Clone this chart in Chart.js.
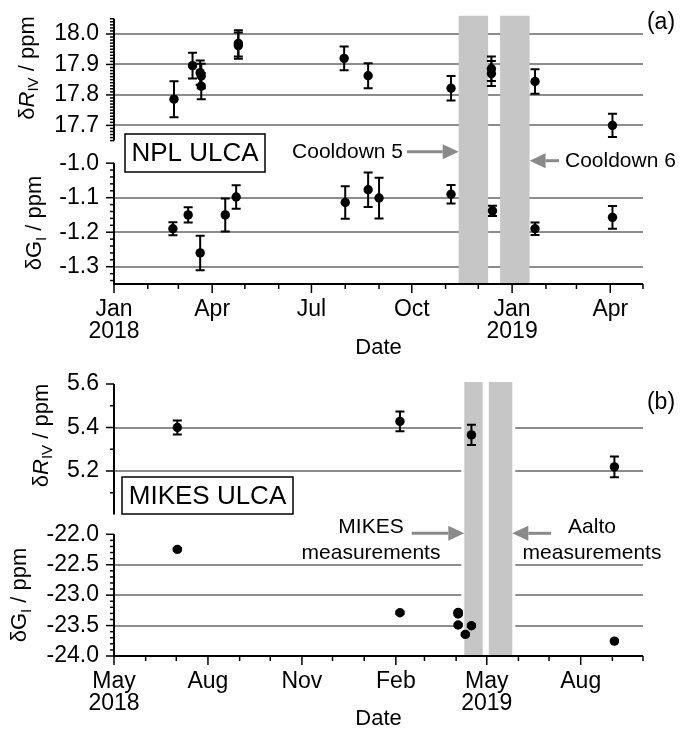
<!DOCTYPE html>
<html><head><meta charset="utf-8">
<script src="https://cdn.jsdelivr.net/npm/chart.js@4.4.1/dist/chart.umd.min.js"></script>
<style>
html,body{margin:0;padding:0;background:#fff;}
#wrap{position:relative;width:692px;height:732px;overflow:hidden;background:#fff;}
canvas{position:absolute;left:0;}
#ca{top:0;}
#cb{top:360px;}
</style></head><body>
<div id="wrap"><canvas id="ca" width="692" height="360"></canvas><canvas id="cb" width="692" height="372"></canvas></div>
<script>
// ---------- Panel (a): NPL ULCA ----------
const nplRDates = ['2018-02-25','2018-03-14','2018-03-21','2018-03-22','2018-03-22','2018-04-25','2018-04-25','2018-07-31','2018-08-22','2018-11-06','2018-12-13','2018-12-13','2019-01-22','2019-04-03'];
const nplRVals  = [17.786, 17.896, 17.873, 17.862, 17.829, 17.969, 17.962, 17.920, 17.863, 17.822, 17.886, 17.870, 17.844, 17.700];
const nplRErr   = [0.059, 0.042, 0.040, 0.040, 0.043, 0.043, 0.043, 0.039, 0.041, 0.040, 0.040, 0.041, 0.040, 0.038];

const nplGDates = ['2018-02-24','2018-03-10','2018-03-21','2018-04-13','2018-04-23','2018-08-01','2018-08-22','2018-09-01','2018-11-06','2018-12-14','2019-01-22','2019-04-03'];
const nplGVals  = [-1.190, -1.150, -1.260, -1.150, -1.098, -1.114, -1.077, -1.101, -1.090, -1.138, -1.190, -1.157];
const nplGErr   = [0.019, 0.022, 0.050, 0.048, 0.034, 0.047, 0.050, 0.059, 0.027, 0.015, 0.018, 0.033];

const nplBands = [['2018-11-13','2018-12-10'], ['2018-12-21','2019-01-17']];

const aMajorDates  = ['2018-01-01','2018-04-01','2018-07-01','2018-10-01','2019-01-01','2019-04-01'];
const aMajorLabels = [['Jan','2018'],'Apr','Jul','Oct',['Jan','2019'],'Apr'];
const aRLabels = ['17.7','17.8','17.9','18.0'];
const aRGrid   = [17.7, 17.8, 17.9, 18.0];
const aGLabels = ['-1.3','-1.2','-1.1','-1.0'];
const aGGrid   = [-1.1, -1.2, -1.3];

// ---------- Panel (b): MIKES ULCA ----------
const mikesRDates = ['2018-07-02','2019-02-05','2019-04-16','2019-09-03'];
const mikesRVals  = [5.400, 5.428, 5.366, 5.219];
const mikesRErr   = [0.032, 0.045, 0.047, 0.048];

const mikesGDates = ['2018-07-02','2019-02-05','2019-04-03','2019-04-03','2019-04-03','2019-04-10','2019-04-16','2019-09-03'];
const mikesGVals  = [-22.247, -23.289, -23.283, -23.310, -23.490, -23.645, -23.503, -23.755];
const mikesGErr   = [0.02, 0.02, 0.02, 0.02, 0.02, 0.02, 0.02, 0.02];

const mikesBands = [['2019-04-09','2019-04-27'], ['2019-05-03','2019-05-26']];

const bMajorDates  = ['2018-05-01','2018-08-01','2018-11-01','2019-02-01','2019-05-01','2019-08-01'];
const bMajorLabels = [['May','2018'],'Aug','Nov','Feb',['May','2019'],'Aug'];
const bRLabels = ['5.2','5.4','5.6'];
const bRGrid   = [5.2, 5.4];
const bGLabels = ['-24.0','-23.5','-23.0','-22.5','-22.0'];
const bGGrid   = [-22.5, -23.0, -23.5];

// ---------- helpers ----------
const FONT = "'Liberation Sans', Arial, sans-serif";
const GRID = '#8c8c8c';
const BAND = '#c6c6c6';
const ARROW = '#8a8a8a';
const day = s => Date.UTC(+s.slice(0,4), +s.slice(5,7)-1, +s.slice(8,10)) / 86400000;
function monthList(start, end) {
  const out = []; let y = +start.slice(0,4), m = +start.slice(5,7);
  for (;;) {
    const s = y + '-' + String(m).padStart(2,'0') + '-01';
    if (day(s) > day(end)) break;
    out.push(s); m++; if (m > 12) { m = 1; y++; }
  }
  return out;
}
function tickRange(min, max, step) {
  const n = Math.round((max - min) / step), out = [];
  for (let i = 0; i <= n; i++) out.push(+(min + i * step).toFixed(4));
  return out;
}
const near = (a, b) => Math.abs(a - b) < 1e-6;

const PANELS = {
  ca: {
    xMin: '2018-01-01', xMax: '2019-05-01', majorDates: aMajorDates, majorLabels: aMajorLabels,
    padTop: 18.75, xHeight: 76, bands: nplBands, bandExtra: 3, bandGap: false,
    series: [
      {id: 'yR', dates: nplRDates, vals: nplRVals, err: nplRErr},
      {id: 'yG', dates: nplGDates, vals: nplGVals, err: nplGErr}
    ],
    axes: {
      yR: {min: 17.576, max: 18.05, tMin: 17.65, tMax: 18.05, step: 0.01, labels: aRLabels, grid: aRGrid, line: [17.65, 18.05], sw: 144.6, order: 1},
      yG: {min: -1.35, max: -1.0, tMin: -1.34, tMax: -1.0, step: 0.02, labels: aGLabels, grid: aGGrid, line: [-1.35, -1.0], sw: 121, order: 0}
    },
    titles: [
      {cx: 26, cy: 68, parts: [['δ'], ['R', 'i'], ['IV', 's'], [' / ppm']]},
      {cx: 33.5, cy: 223, parts: [['δG'], ['I', 's'], [' / ppm']]}
    ],
    dateY: 348, label: '(a)', labelY: 23,
    box: {x1: 125, y1: 134, x2: 265, y2: 172, text: 'NPL ULCA'},
    notes: function (ctx, xs) {
      const b1 = xs.getPixelForValue(day(nplBands[0][0]));
      const b2 = xs.getPixelForValue(day(nplBands[1][1]));
      text(ctx, 'Cooldown 5', 403, 152, 21, 'right');
      arrow(ctx, 407, b1, 151.7);
      arrow(ctx, 559, b2, 160.7);
      text(ctx, 'Cooldown 6', 565, 161, 21, 'left');
    }
  },
  cb: {
    xMin: '2018-05-01', xMax: '2019-10-01', majorDates: bMajorDates, majorLabels: bMajorLabels,
    padTop: 24, xHeight: 76, bands: mikesBands, bandExtra: 2, bandGap: true,
    series: [
      {id: 'yR', dates: mikesRDates, vals: mikesRVals, err: mikesRErr},
      {id: 'yG', dates: mikesGDates, vals: mikesGVals, err: mikesGErr}
    ],
    axes: {
      yR: {min: 4.909, max: 5.6, tMin: 5.1, tMax: 5.6, step: 0.1, labels: bRLabels, grid: bRGrid, line: [5.0, 5.6], sw: 150.3, order: 1},
      yG: {min: -24.0, max: -22.0, tMin: -24.0, tMax: -22.0, step: 0.1, labels: bGLabels, grid: bGGrid, line: [-24.0, -22.0], sw: 121.7, order: 0}
    },
    titles: [
      {cx: 40, cy: 75.5, parts: [['δ'], ['R', 'i'], ['IV', 's'], [' / ppm']]},
      {cx: 18.5, cy: 235, parts: [['δG'], ['I', 's'], [' / ppm']]}
    ],
    dateY: 359, label: '(b)', labelY: 42.5,
    box: {x1: 122, y1: 117, x2: 293, y2: 154, text: 'MIKES ULCA'},
    notes: function (ctx, xs) {
      const b1 = xs.getPixelForValue(day(mikesBands[0][0]));
      const b2 = xs.getPixelForValue(day(mikesBands[1][1]));
      text(ctx, 'MIKES', 371, 167.3, 21, 'center');
      text(ctx, 'measurements', 371, 193.3, 21, 'center');
      arrow(ctx, 411.7, b1, 173.3);
      arrow(ctx, 551, b2, 173.3);
      text(ctx, 'Aalto', 592, 167.3, 21, 'center');
      text(ctx, 'measurements', 592, 193.3, 21, 'center');
    }
  }
};

function text(ctx, s, x, y, size, align) {
  ctx.save();
  ctx.font = size + 'px ' + FONT;
  ctx.fillStyle = '#000';
  ctx.textAlign = align; ctx.textBaseline = 'middle';
  ctx.fillText(s, x, y);
  ctx.restore();
}
function arrow(ctx, xFrom, xTip, y) {
  const dir = Math.sign(xTip - xFrom), headL = 16, headW = 7.5;
  ctx.save();
  ctx.strokeStyle = ARROW; ctx.fillStyle = ARROW; ctx.lineWidth = 3;
  ctx.beginPath(); ctx.moveTo(xFrom, y); ctx.lineTo(xTip - dir * headL, y); ctx.stroke();
  ctx.beginPath();
  ctx.moveTo(xTip, y);
  ctx.lineTo(xTip - dir * headL, y - headW);
  ctx.lineTo(xTip - dir * headL, y + headW);
  ctx.closePath(); ctx.fill();
  ctx.restore();
}
function vTitle(ctx, t) {
  const size = 22, sub = 15;
  ctx.save();
  ctx.translate(t.cx, t.cy);
  ctx.rotate(-Math.PI / 2);
  ctx.fillStyle = '#000';
  ctx.textBaseline = 'alphabetic'; ctx.textAlign = 'left';
  const fontOf = p => (p[1] === 'i' ? 'italic ' : '') + (p[1] === 's' ? sub : size) + 'px ' + FONT;
  let total = 0;
  t.parts.forEach(p => { ctx.font = fontOf(p); total += ctx.measureText(p[0]).width; });
  let x = -total / 2;
  const base = 0.35 * size;
  t.parts.forEach(p => {
    ctx.font = fontOf(p);
    ctx.fillText(p[0], x, p[1] === 's' ? base + 4.5 : base);
    x += ctx.measureText(p[0]).width;
  });
  ctx.restore();
}

const decor = {
  id: 'decor',
  beforeDatasetsDraw(chart) {
    const P = PANELS[chart.canvas.id], ctx = chart.ctx, xs = chart.scales.x, a = chart.chartArea;
    ctx.save();
    const px = P.bands.map(b => [xs.getPixelForValue(day(b[0])), xs.getPixelForValue(day(b[1]))]);
    if (P.bandGap) {
      ctx.fillStyle = '#fff';
      ctx.fillRect(px[0][0] - 3, a.top, px[px.length - 1][1] - px[0][0] + 6, a.bottom - a.top - 1);
    }
    ctx.fillStyle = BAND;
    px.forEach(p => ctx.fillRect(p[0], a.top - P.bandExtra, p[1] - p[0], a.bottom - a.top + P.bandExtra));
    // error bars
    ctx.strokeStyle = '#000'; ctx.lineWidth = 2;
    chart.data.datasets.forEach(ds => {
      const ys = chart.scales[ds.yAxisID];
      ds.data.forEach((pt, i) => {
        const e = ds.errs[i];
        const x = xs.getPixelForValue(pt.x);
        const y1 = ys.getPixelForValue(pt.y - e), y2 = ys.getPixelForValue(pt.y + e);
        ctx.beginPath();
        ctx.moveTo(x, y1); ctx.lineTo(x, y2);
        ctx.moveTo(x - 4.5, y1); ctx.lineTo(x + 4.5, y1);
        ctx.moveTo(x - 4.5, y2); ctx.lineTo(x + 4.5, y2);
        ctx.stroke();
      });
    });
    ctx.restore();
  },
  afterDraw(chart) {
    const P = PANELS[chart.canvas.id], ctx = chart.ctx, xs = chart.scales.x, a = chart.chartArea;
    ctx.save();
    ctx.strokeStyle = '#000';
    // x axis line + ticks
    ctx.lineWidth = 2;
    ctx.beginPath(); ctx.moveTo(a.left - 1, a.bottom); ctx.lineTo(a.right, a.bottom); ctx.stroke();
    ctx.lineWidth = 1.5;
    xs.ticks.forEach(t => {
      const x = xs.getPixelForValue(t.value);
      const major = Array.isArray(t.label) ? t.label.length > 0 : !!t.label;
      ctx.beginPath(); ctx.moveTo(x, a.bottom); ctx.lineTo(x, a.bottom + (major ? 9 : 5)); ctx.stroke();
    });
    // y axes
    ['yR', 'yG'].forEach(id => {
      const ys = chart.scales[id], ax = P.axes[id];
      ctx.lineWidth = 2;
      ctx.beginPath();
      ctx.moveTo(a.left, ys.getPixelForValue(ax.line[0]));
      ctx.lineTo(a.left, ys.getPixelForValue(ax.line[1]));
      ctx.stroke();
      ctx.lineWidth = 1.5;
      ys.ticks.forEach(t => {
        const y = ys.getPixelForValue(t.value);
        const major = !!t.label;
        ctx.beginPath(); ctx.moveTo(a.left, y); ctx.lineTo(a.left - (major ? 8 : 4), y); ctx.stroke();
      });
    });
    ctx.restore();
    P.titles.forEach(t => vTitle(ctx, t));
    text(ctx, 'Date', 378.5, P.dateY, 22, 'center');
    text(ctx, P.label, 661, P.labelY, 23, 'center');
    // box label
    ctx.save();
    ctx.fillStyle = '#fff';
    ctx.fillRect(P.box.x1, P.box.y1, P.box.x2 - P.box.x1, P.box.y2 - P.box.y1);
    ctx.strokeStyle = '#000'; ctx.lineWidth = 1.5;
    ctx.strokeRect(P.box.x1, P.box.y1, P.box.x2 - P.box.x1, P.box.y2 - P.box.y1);
    ctx.restore();
    text(ctx, P.box.text, (P.box.x1 + P.box.x2) / 2, (P.box.y1 + P.box.y2) / 2 + 1, 26, 'center');
    P.notes(ctx, xs);
  }
};

function makePanel(canvasId) {
  const P = PANELS[canvasId];
  const months = monthList(P.xMin, P.xMax);
  const xLabelMap = {};
  P.majorDates.forEach((d, i) => { xLabelMap[day(d)] = P.majorLabels[i]; });
  const yAxis = id => {
    const ax = P.axes[id];
    return {
      type: 'linear', position: 'left', stack: 'st', stackWeight: ax.sw, weight: ax.order,
      min: ax.min, max: ax.max,
      afterBuildTicks: s => { s.ticks = tickRange(ax.tMin, ax.tMax, ax.step).map(v => ({value: v})); },
      afterFit: s => { s.width = 114; s.paddingTop = 0; s.paddingBottom = 0; s.paddingLeft = 0; s.paddingRight = 0; },
      ticks: {
        autoSkip: false, padding: 15, color: '#000', font: {family: FONT, size: 23},
        callback: v => { const l = ax.labels.find(l => near(+l, v)); return l === undefined ? '' : l; }
      },
      grid: {
        drawTicks: false, lineWidth: 2,
        color: c => (c.tick && ax.grid.some(g => near(g, c.tick.value))) ? GRID : 'rgba(0,0,0,0)'
      },
      border: {display: false}
    };
  };
  const datasets = P.series.map(s => ({
    yAxisID: s.id,
    data: s.dates.map((d, i) => ({x: day(d), y: s.vals[i]})),
    errs: s.err,
    backgroundColor: '#000', borderColor: '#000', borderWidth: 0,
    pointRadius: 4.7, pointHoverRadius: 4.7, showLine: false
  }));
  return new Chart(document.getElementById(canvasId), {
    type: 'scatter',
    data: {datasets},
    options: {
      responsive: false, animation: false, devicePixelRatio: 1,
      layout: {padding: {top: P.padTop, right: 49, left: 0, bottom: 0}},
      plugins: {legend: {display: false}, tooltip: {enabled: false}},
      events: [],
      scales: {
        x: {
          type: 'linear', min: day(P.xMin), max: day(P.xMax),
          afterBuildTicks: s => { s.ticks = months.map(d => ({value: day(d)})); },
          afterFit: s => { s.height = P.xHeight; s.paddingLeft = 0; s.paddingRight = 0; s.paddingTop = 0; s.paddingBottom = 0; },
          ticks: {
            autoSkip: false, maxRotation: 0, minRotation: 0, padding: 15, color: '#000',
            font: {family: FONT, size: 23, lineHeight: 0.95},
            callback: v => (xLabelMap[v] !== undefined ? xLabelMap[v] : '')
          },
          grid: {display: false, drawTicks: false},
          border: {display: false}
        },
        yR: yAxis('yR'),
        yG: yAxis('yG')
      }
    },
    plugins: [decor]
  });
}
makePanel('ca');
makePanel('cb');
</script>
</body></html>
